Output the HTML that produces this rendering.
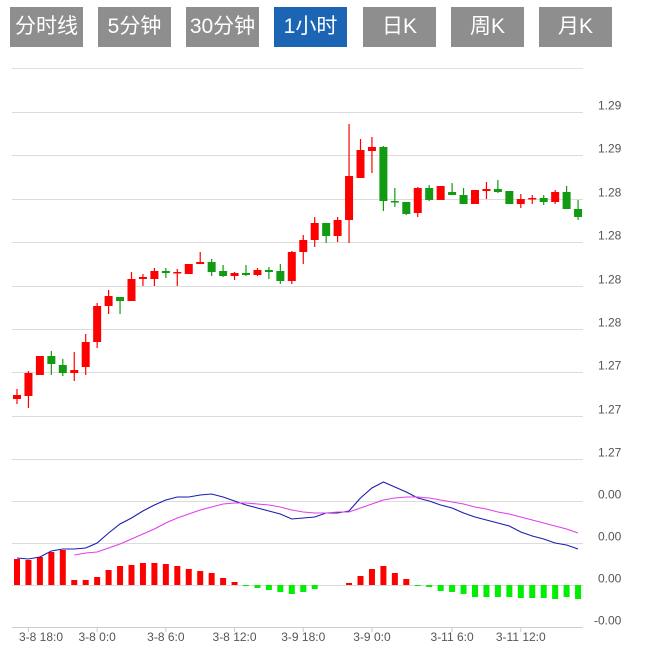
<!DOCTYPE html>
<html><head><meta charset="utf-8"><style>
body{margin:0;width:648px;height:651px;background:#fff;overflow:hidden;font-family:"Liberation Sans","Noto Sans CJK SC",sans-serif}
.btn{position:absolute;top:7px;height:40px;width:73px;background:#8e8e8e;color:#fff;font-size:21px;line-height:40px;text-align:center}
.btn.active{background:#1c65b5}
</style></head><body>
<div class="btn" style="left:10px">分时线</div>
<div class="btn" style="left:98px">5分钟</div>
<div class="btn" style="left:186px">30分钟</div>
<div class="btn active" style="left:274px">1小时</div>
<div class="btn" style="left:363px">日K</div>
<div class="btn" style="left:451px">周K</div>
<div class="btn" style="left:539px">月K</div>
<svg id="chart" width="648" height="651" style="position:absolute;left:0;top:0"></svg>
<script>
const opens=[1.27300,1.27315,1.27420,1.27515,1.27470,1.27430,1.27460,1.27585,1.27765,1.27810,1.27790,1.27900,1.27900,1.27940,1.27930,1.27925,1.27975,1.27985,1.27940,1.27915,1.27930,1.27920,1.27945,1.27940,1.27890,1.28035,1.28095,1.28180,1.28115,1.28195,1.28405,1.28540,1.28560,1.28290,1.28285,1.28230,1.28355,1.28295,1.28335,1.28320,1.28275,1.28340,1.28350,1.28340,1.28275,1.28300,1.28305,1.28285,1.28335,1.28250];
const highs=[1.27350,1.27440,1.27515,1.27540,1.27500,1.27535,1.27625,1.27780,1.27845,1.27810,1.27935,1.27925,1.27955,1.27955,1.27950,1.27975,1.28035,1.28000,1.27970,1.27935,1.27970,1.27955,1.27960,1.27975,1.28040,1.28120,1.28210,1.28180,1.28210,1.28675,1.28600,1.28610,1.28565,1.28355,1.28285,1.28360,1.28370,1.28365,1.28380,1.28355,1.28345,1.28385,1.28395,1.28340,1.28325,1.28320,1.28320,1.28345,1.28365,1.28295];
const lows=[1.27275,1.27255,1.27420,1.27420,1.27415,1.27390,1.27420,1.27555,1.27725,1.27725,1.27790,1.27865,1.27865,1.27905,1.27865,1.27925,1.27975,1.27915,1.27910,1.27895,1.27915,1.27915,1.27900,1.27875,1.27875,1.27975,1.28060,1.28080,1.28085,1.28080,1.28405,1.28430,1.28240,1.28260,1.28220,1.28210,1.28290,1.28295,1.28320,1.28275,1.28275,1.28300,1.28330,1.28275,1.28255,1.28275,1.28270,1.28275,1.28255,1.28195];
const closes=[1.27320,1.27430,1.27515,1.27475,1.27430,1.27445,1.27585,1.27765,1.27815,1.27790,1.27900,1.27910,1.27940,1.27930,1.27935,1.27975,1.27985,1.27935,1.27915,1.27930,1.27920,1.27945,1.27935,1.27890,1.28035,1.28095,1.28180,1.28115,1.28195,1.28415,1.28545,1.28560,1.28290,1.28285,1.28225,1.28355,1.28295,1.28365,1.28320,1.28275,1.28345,1.28350,1.28335,1.28275,1.28300,1.28305,1.28285,1.28335,1.28250,1.28210];
const macdHist=[26,25,28,33,35,5,5,8,15,19,20,22,22,21,19,16,14,12,7,3,-1,-3,-5,-7,-9,-7,-4,0,0,2,9,16,19,12,6,-1,-2,-6,-7,-9,-12,-12,-12,-12,-13,-13,-13,-14,-12,-14].map(v=>v*1e-5);
const difLine=[27,26,28,34,36,36,37,42,52,61,67,74,80,85,88,88,90,91,88,84,80,77,74,71,66,67,68,72,72,74,87,97,103,98,93,87,84,80,77,72,68,65,62,59,53,49,46,42,40,36].map(v=>v*1e-5);
const deaLine=[null,null,null,null,null,30,32,33,37,41,46,51,56,62,67,71,75,78,81,82,82,81,80,78,75,73,72,72,73,73,77,81,85,87,88,88,87,85,83,81,78,76,73,71,68,65,62,59,56,52].map(v=>v==null?null:v*1e-5);
const priceTickLabels=["1.29","1.29","1.28","1.28","1.28","1.28","1.27","1.27","1.27"];
const macdTickLabels=["0.00","0.00","0.00","-0.00"];
const macdTickValues=[0.00084,0.00042,0,-0.00042];
const xLabels=["3-8 18:0","3-8 0:0","3-8 6:0","3-8 12:0","3-9 18:0","3-9 0:0","3-11 6:0","3-11 12:0"];
const xLabelIndex=[1,7,13,19,25,31,38,44];

const NS="http://www.w3.org/2000/svg",svg=document.getElementById('chart');
function mk(t,a,p){const e=document.createElementNS(NS,t);for(const k in a)e.setAttribute(k,a[k]);(p||svg).appendChild(e);return e;}
const L=12,R=583,n=opens.length,step=11.45,x0=17;
const xs=i=>x0+i*step;
const pMin=1.27,pTop=459,pxPer=5e-5;
const py=v=>pTop-(v-pMin)/pxPer;
const my=v=>585-v/1e-5;

// price grid
const g1=mk('g',{});

mk('line',{x1:L,x2:R,y1:68.5,y2:68.5,stroke:'#e0e0e0'},g1);
for(let k=0;k<priceTickLabels.length;k++){
  const y=Math.round(112+k*43.375)+0.5;
  mk('line',{x1:L,x2:R,y1:y,y2:y,stroke:'#dcdcdc'},g1);
  const t=mk('text',{x:598,y:y-3,'font-size':12,fill:'#555'});t.textContent=priceTickLabels[k];
  
}
// candles
for(let i=0;i<n;i++){
  const up=closes[i]>=opens[i],col=up?'#ff0000':'#139a13',x=xs(i);
  const g=mk('g',{});
  
  mk('line',{x1:x,x2:x,y1:py(highs[i]),y2:py(lows[i]),stroke:col,'stroke-width':1.2},g);
  const top=py(Math.max(opens[i],closes[i])),bot=py(Math.min(opens[i],closes[i]));
  mk('rect',{x:x-4,y:top,width:8,height:Math.max(1.5,bot-top),fill:col},g);
}
// macd grid
const g2=mk('g',{});

for(let k=0;k<macdTickValues.length;k++){
  const y=Math.round(my(macdTickValues[k]))+0.5;
  mk('line',{x1:L,x2:R,y1:y,y2:y,stroke:k==3?'#ccc':'#dcdcdc'},g2);
  const t=mk('text',{x:k==3?594:598,y:y-3,'font-size':12,fill:'#555'});t.textContent=macdTickLabels[k];
  
}
// histogram
for(let i=0;i<n;i++){
  const v=macdHist[i];if(v===0)continue;
  const y0=my(0),y1=my(v);
  const r=mk('rect',{x:xs(i)-3,y:Math.min(y0,y1),width:6,height:Math.abs(y1-y0),fill:v>0?'#ff0000':'#00ee00'});
  
}
function line(arr,col,name){
  let d='';arr.forEach((v,i)=>{if(v==null)return;d+=(d?'L':'M')+xs(i).toFixed(1)+' '+my(v).toFixed(1);});
  const p=mk('path',{d:d,fill:'none',stroke:col,'stroke-width':1.1});
  
}
line(difLine,'#1c1cb0','dif-line');
line(deaLine,'#e040e8','dea-line');
// x axis
for(let k=0;k<xLabels.length;k++){
  const x=xs(xLabelIndex[k]);
  mk('line',{x1:x,x2:x,y1:627,y2:632,stroke:'#ccc'});
  const t=mk('text',{x:Math.max(41,x),y:641,'font-size':12,fill:'#555','text-anchor':'middle'});
  t.textContent=xLabels[k];
  
}
</script>
</body></html>
